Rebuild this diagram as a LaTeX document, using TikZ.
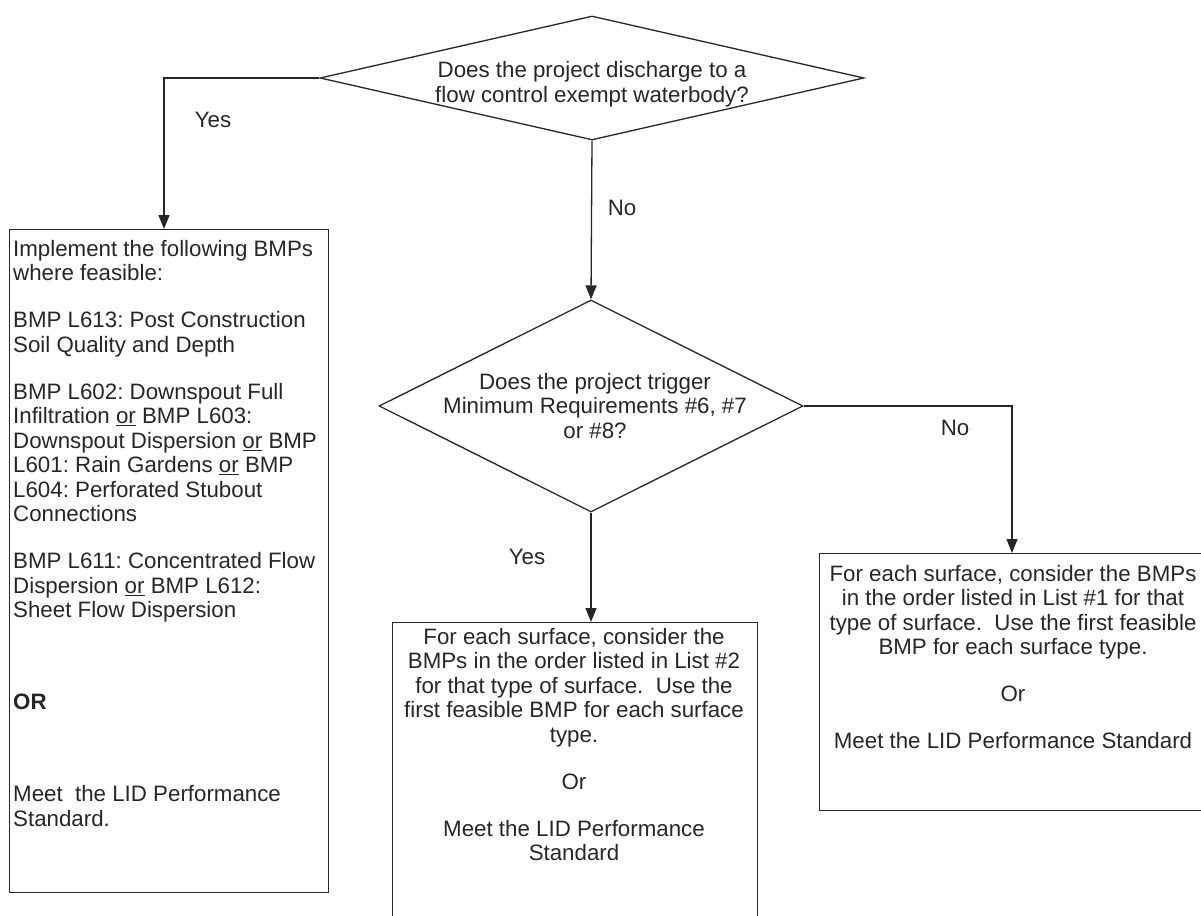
\documentclass[tikz,border=0pt]{standalone}
\usepackage{fontspec}
\setmainfont{Liberation Sans}
\usetikzlibrary{shapes.geometric,arrows.meta}
\frenchspacing
\begin{document}
\begin{tikzpicture}[x=1pt,y=-1pt,
  ln/.style={draw=black!85, line width=1.3pt},
  arr/.style={ln, -{Triangle[length=14pt,width=11pt]}},
  dia/.style={ln, shape=diamond, inner sep=0pt},
  txt/.style={font=\fontsize{22.3}{24.5}\selectfont, text=black!85, inner sep=0pt},
  box/.style={ln, rectangle, inner sep=0pt, anchor=north west}]
\useasboundingbox (0,0) rectangle (1201,915);
\clip (0,0) rectangle (1201,915);

% decisions
\node[dia, minimum width=544pt, minimum height=124pt] (d1) at (592,78) {};
\node[txt, align=center] (t1) at (592,84) {Does the project discharge to a\\flow control exempt waterbody?};
\node[dia, minimum width=424pt, minimum height=212pt] (d2) at (591,406) {};
\node[txt, align=center] (t2) at (595,406) {Does the project trigger\\Minimum Requirements \#6, \#7\\or \#8?};

% boxes
\node[box, minimum width=319pt, minimum height=663pt] (lbox) at (9,229) {};
\node[txt, align=left, anchor=north west] (ltxt) at (13,240) {Implement the following BMPs\\
where feasible:\\[22.5pt]
BMP L613: Post Construction\\
Soil Quality and Depth\\[22.5pt]
BMP L602: Downspout Full\\
Infiltration \underline{or} BMP L603:\\
Downspout Dispersion \underline{or} BMP\\
L601: Rain Gardens \underline{or} BMP\\
L604: Perforated Stubout\\
Connections\\[22.5pt]
BMP L611: Concentrated Flow\\
Dispersion \underline{or} BMP L612:\\
Sheet Flow Dispersion\\[67.5pt]
\textbf{OR}\\[67.5pt]
Meet\ \ the LID Performance\\
Standard.};

\node[box, minimum width=365pt, minimum height=330pt] (mbox) at (392,622) {};
\node[txt, align=center, anchor=north] (mtxt) at (574,628) {For each surface, consider the\\
BMPs in the order listed in List \#2\\
for that type of surface.\ \ Use the\\
first feasible BMP for each surface\\
type.\\[22.5pt]
Or\\[22.5pt]
Meet the LID Performance\\
Standard};

\node[box, minimum width=400pt, minimum height=257pt] (rbox) at (819,553) {};
\node[txt, align=center, anchor=north] (rtxt) at (1013,565) {For each surface, consider the BMPs\\
in the order listed in List \#1 for that\\
type of surface.\ \ Use the first feasible\\
BMP for each surface type.\\[22.5pt]
Or\\[22.5pt]
Meet the LID Performance Standard};

% connectors
\coordinate (lin) at (164,229);
\coordinate (rin) at (1012,553);
\draw[arr] (d1.west) -| (lin);
\draw[arr] (d1.south) -- (d2.north);
\draw[arr] (d2.east) -| (rin);
\draw[arr] (d2.south) -- (d2.south |- mbox.north);

% labels
\node[txt] (lyes1) at (213,120) {Yes};
\node[txt] (lno1) at (622,208) {No};
\node[txt] (lno2) at (955,428) {No};
\node[txt] (lyes2) at (527,557) {Yes};
\end{tikzpicture}
\end{document}
